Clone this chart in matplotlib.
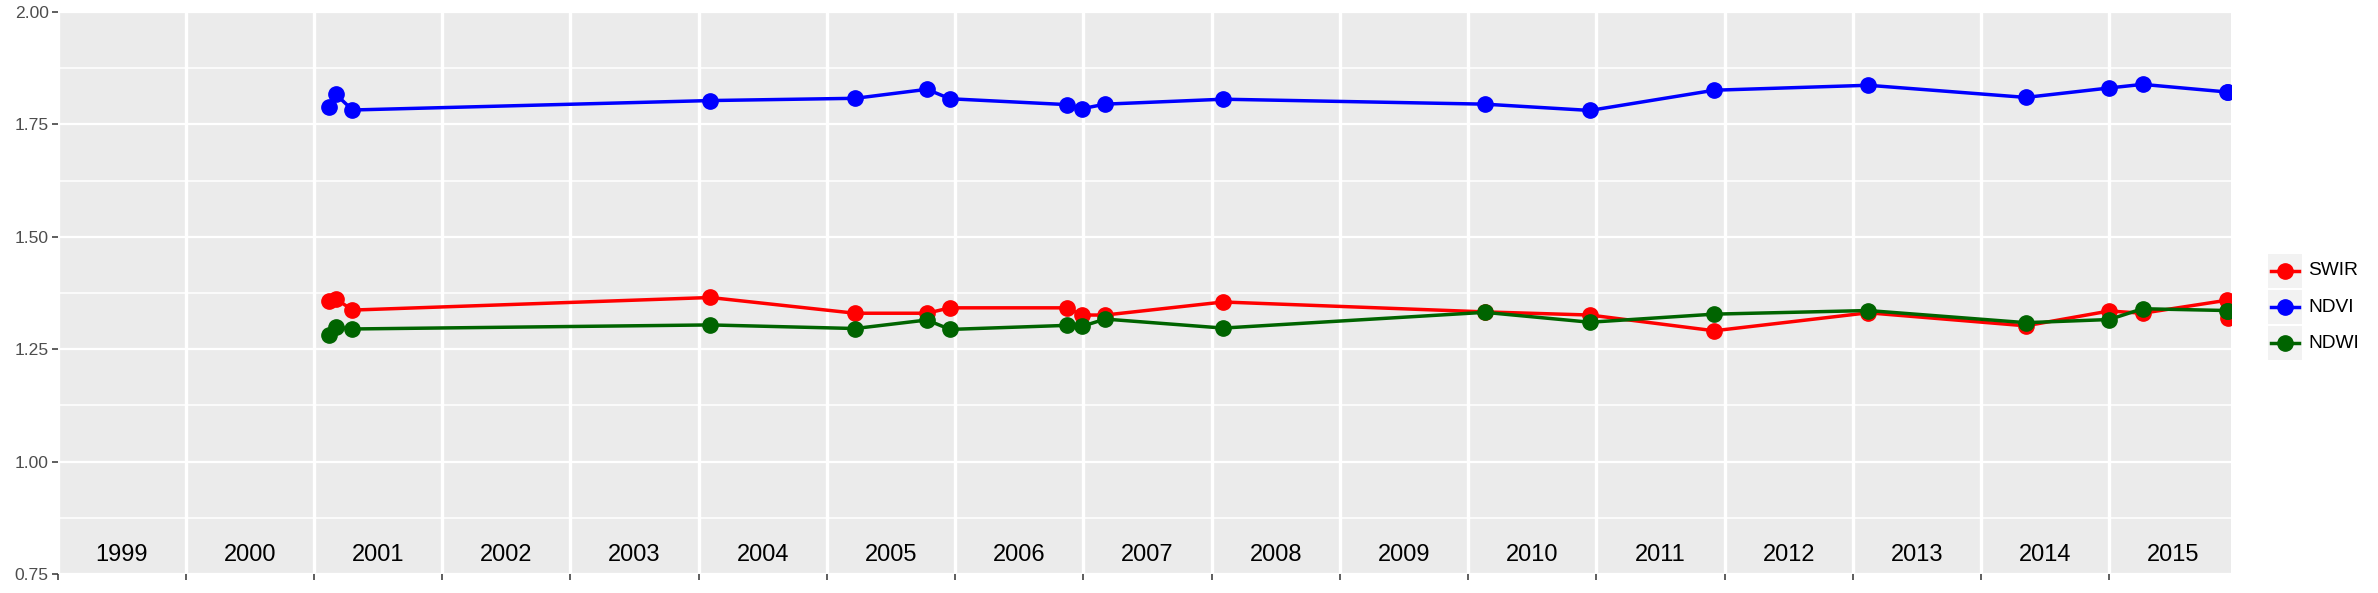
import numpy as np
import matplotlib.pyplot as plt
from matplotlib.patches import Rectangle
from matplotlib.lines import Line2D

plt.rcParams['font.family'] = ['Liberation Sans', 'DejaVu Sans']

# observation dates (decimal years)
dates = [2001.12, 2001.17, 2001.30, 2004.09, 2005.22, 2005.78, 2005.96,
         2006.87, 2006.99, 2007.17, 2008.09, 2010.13, 2010.95, 2011.92,
         2013.12, 2014.35, 2015.00, 2015.26, 2015.92, 2015.925]

swir = [1.358, 1.362, 1.337, 1.365, 1.330, 1.330, 1.342, 1.342, 1.326, 1.326,
        1.355, 1.333, 1.326, 1.291, 1.331, 1.302, 1.335, 1.330, 1.359, 1.319]
ndvi = [1.789, 1.817, 1.782, 1.803, 1.808, 1.828, 1.807, 1.794, 1.785, 1.795,
        1.806, 1.795, 1.781, 1.826, 1.837, 1.810, 1.831, 1.839, 1.822, 1.822]
ndwi = [1.282, 1.299, 1.295, 1.304, 1.296, 1.315, 1.294, 1.303, 1.301, 1.317,
        1.297, 1.332, 1.310, 1.328, 1.336, 1.309, 1.316, 1.340, 1.336, 1.336]

series = [("SWIR", swir, "#FF0000"), ("NDVI", ndvi, "#0000FF"), ("NDWI", ndwi, "#006400")]
years = list(range(1999, 2016))

fig = plt.figure(figsize=(23.78, 5.93), dpi=100)
ax = fig.add_axes([0.0242, 0.032, 0.9140, 0.9478])
ax.set_facecolor("#EBEBEB")
for s in ax.spines.values():
    s.set_visible(False)

ax.set_xlim(1999, 2015.95)
ax.set_ylim(0.75, 2.0)

# grid
ax.set_xticks(years)
ax.set_xticklabels([])
ax.set_yticks([0.75, 1.0, 1.25, 1.5, 1.75, 2.0])
ax.set_yticklabels(["0.75", "1.00", "1.25", "1.50", "1.75", "2.00"])
ax.set_yticks([0.875, 1.125, 1.375, 1.625, 1.875], minor=True)
ax.grid(axis="x", which="major", color="white", lw=2.4)
ax.grid(axis="y", which="major", color="white", lw=1.6)
ax.grid(axis="y", which="minor", color="white", lw=1.1)
ax.set_axisbelow(True)
ax.tick_params(axis="both", which="major", length=4.5, width=1.1, color="#333333",
               labelsize=12.6, labelcolor="#4D4D4D", pad=2)
ax.tick_params(axis="y", which="minor", length=0)

# year labels inside plot
for y in years:
    ax.text(y + 0.5, 0.792, str(y), ha="center", va="center", fontsize=17, color="black")

for name, vals, col in series:
    ax.plot(dates, vals, color=col, lw=2.5, marker="o", ms=11, clip_on=True)

# legend
kx, kw, kh = 2268 / 2378, 34 / 2378, 34 / 593
tops = [254, 290, 326]
for (name, vals, col), t in zip(series, tops):
    y0 = 1 - (t + 34) / 593
    fig.patches.append(Rectangle((kx, y0), kw, kh, transform=fig.transFigure,
                                 facecolor="#F2F2F2", edgecolor="none"))
    yc = y0 + kh / 2
    fig.lines.append(Line2D([kx + 0.1 * kw, kx + 0.9 * kw], [yc, yc], transform=fig.transFigure,
                            color=col, lw=2.5, marker=None))
    fig.lines.append(Line2D([kx + kw / 2], [yc], transform=fig.transFigure,
                            color=col, marker="o", ms=11))
    fig.text(kx + kw + 6 / 2378, yc, name, ha="left", va="center", fontsize=13.8, color="black")

fig.savefig("out.png", dpi=100)
